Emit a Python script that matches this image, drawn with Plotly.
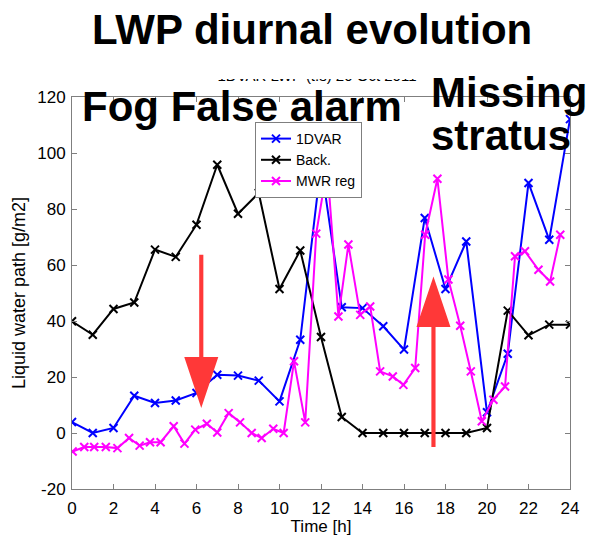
import plotly.graph_objects as go

# Hourly retrievals (h)
hours = list(range(0, 25))

# 1DVAR retrieved liquid water path [g/m2]
lwp_1dvar = [3.9, 0.0, 1.8, 13.3, 10.7, 11.6, 14.3, 20.8, 20.5, 18.7, 11.3, 33.3, 96.0,
             44.9, 44.6, 38.1, 29.8, 76.8, 51.4, 68.4, 7.4, 28.3, 89.3, 69.0, 112.1]

# Background (first guess) liquid water path [g/m2]
lwp_back = [39.9, 35.1, 44.3, 46.6, 65.5, 62.9, 74.4, 95.8, 78.3, 85.7, 51.4, 65.2, 34.3,
            5.7, 0.0, 0.0, 0.0, 0.0, 0.0, 0.0, 1.8, 43.7, 34.9, 38.7, 38.7]

# Microwave radiometer regression, sampled roughly every 32 minutes
mwr_time = [0.03, 0.59, 1.07, 1.63, 2.19, 2.75, 3.26, 3.76, 4.27, 4.90, 5.42, 5.94, 6.50,
            7.00, 7.55, 8.10, 8.66, 9.14, 9.70, 10.20, 10.70, 11.24, 11.77, 12.30, 12.84,
            13.32, 13.89, 14.37, 14.85, 15.46, 15.97, 16.54, 17.02, 17.61, 18.14, 18.71,
            19.22, 19.75, 20.31, 20.87, 21.35, 21.83, 22.48, 23.04, 23.53]
mwr_lwp = [-6.6, -5.0, -5.0, -5.0, -5.4, -1.8, -4.5, -3.3, -3.3, 2.4, -3.8, 1.2, 3.3,
           0.2, 7.1, 3.8, 0.0, -1.8, 1.5, 0.0, 25.6, 3.8, 71.2, 95.0, 41.6,
           67.3, 42.2, 45.2, 22.0, 20.2, 17.2, 23.2, 70.8, 90.8, 54.8, 38.3,
           22.0, 4.2, 11.9, 16.6, 63.1, 64.9, 58.3, 54.1, 70.8]

x_ticks = list(range(0, 25, 2))
y_ticks = list(range(-20, 121, 20))

axes_title = "1DVAR LWP (t.s) 20 Oct 2011"

FONT = "Liberation Sans, Arial, Helvetica, sans-serif"
AXIS_GREY = "#7f7f7f"
ARROW_RED = "#ff3838"

# figure geometry (pixels)
W, H = 589, 536
ML, MR, MT, MB = 72, 19, 20, 47
PAPER_W, PAPER_H = W - ML - MR, H - MT - MB
PLOT_TOP = 97                      # top edge of the data frame
TITLE_BAND = (62, 92)              # pixel band holding the axes title


def px_x(p):
    return (p - ML) / PAPER_W


def px_y(p):
    return (H - MB - p) / PAPER_H


def series(x, y, name, color):
    return go.Scatter(
        x=x, y=y, name=name, mode="lines+markers",
        line=dict(color=color, width=2),
        marker=dict(symbol="x-thin", size=8, line=dict(color=color, width=2)),
    )


fig = go.Figure()
fig.add_trace(series(hours, lwp_1dvar, "1DVAR", "#0000ff"))
fig.add_trace(series(hours, lwp_back, "Back.", "#000000"))
fig.add_trace(series(mwr_time, mwr_lwp, "MWR reg", "#ff00ff"))

# axes title in its own hidden strip above the frame
band_y = (TITLE_BAND[1] - 77.5) / (TITLE_BAND[1] - TITLE_BAND[0])
fig.add_trace(go.Scatter(
    x=[px_x(317)], y=[band_y], xaxis="x2", yaxis="y2", mode="text", text=[axes_title],
    textposition="middle center", textfont=dict(size=15, color="#000"),
    cliponaxis=False, showlegend=False, hoverinfo="skip",
))

# white strip of the slide heading box, partly hiding that title
fig.add_shape(type="rect", xref="paper", yref="paper",
              x0=px_x(170), x1=px_x(450), y0=px_y(79), y1=px_y(55),
              fillcolor="#ffffff", line=dict(width=0), layer="above")


def arrow_path(xc, y_tail, y_base, y_tip, half_head=0.82, half_shaft=0.1):
    """Closed polygon for a block arrow running along y."""
    pts = [
        (xc - half_shaft, y_tail), (xc - half_shaft, y_base), (xc - half_head, y_base),
        (xc, y_tip), (xc + half_head, y_base), (xc + half_shaft, y_base),
        (xc + half_shaft, y_tail),
    ]
    return "M " + " L ".join(f"{a},{b}" for a, b in pts) + " Z"


for xc, yt, yb, yp in [(6.23, 63.7, 27.1, 8.9), (17.42, -5.0, 37.9, 55.9)]:
    fig.add_shape(type="path", xref="x", yref="y", path=arrow_path(xc, yt, yb, yp),
                  fillcolor=ARROW_RED, line=dict(width=0), layer="above")

annotations = [
    dict(text="<b>LWP diurnal evolution</b>", x=px_x(312), y=px_y(29),
         xanchor="center", yanchor="middle"),
    dict(text="<b>Fog False alarm</b>", x=px_x(80), y=px_y(106.7),
         xanchor="left", yanchor="middle"),
    dict(text="<b>Missing</b>", x=px_x(429), y=px_y(92.5),
         xanchor="left", yanchor="middle"),
    dict(text="<b>stratus</b>", x=px_x(429), y=px_y(135.3),
         xanchor="left", yanchor="middle"),
]
for a in annotations:
    a.update(xref="paper", yref="paper", showarrow=False,
             font=dict(size=42, color="#000"))
    fig.add_annotation(**a)

axis_common = dict(
    showgrid=False, zeroline=False, showline=True, linecolor=AXIS_GREY, linewidth=1,
    mirror="ticks", ticks="inside", ticklen=5, tickcolor=AXIS_GREY, tickwidth=1,
    tickfont=dict(size=17, color="#000"), automargin=False,
)

fig.update_layout(
    xaxis=dict(range=[0, 24], tickvals=x_ticks, ticktext=[str(t) for t in x_ticks],
               title=dict(text="Time [h]", font=dict(size=17, color="#000"), standoff=2),
               ticklabelstandoff=4, domain=[0, 1], **axis_common),
    yaxis=dict(range=[-20, 120], tickvals=y_ticks, ticktext=[str(t) for t in y_ticks],
               title=dict(text="Liquid water path [g/m2]", font=dict(size=18, color="#000"),
                          standoff=6),
               ticklabelstandoff=2, domain=[0, px_y(PLOT_TOP)], **axis_common),
    xaxis2=dict(domain=[0, 1], range=[0, 1], anchor="y2", visible=False, fixedrange=True),
    yaxis2=dict(domain=[px_y(TITLE_BAND[1]), px_y(TITLE_BAND[0])], range=[0, 1],
                anchor="x2", visible=False, fixedrange=True),
)

fig.update_layout(
    width=W, height=H, autosize=False,
    margin=dict(l=ML, r=MR, t=MT, b=MB),
    paper_bgcolor="#ffffff", plot_bgcolor="#ffffff",
    font=dict(family=FONT, color="#000"),
    showlegend=True,
    legend=dict(x=px_x(255), y=px_y(122), xanchor="left", yanchor="top",
                bgcolor="#ffffff", bordercolor=AXIS_GREY, borderwidth=1,
                font=dict(size=14, color="#000"), itemwidth=30,
                tracegroupgap=0),
)

fig.write_html("out.html")
